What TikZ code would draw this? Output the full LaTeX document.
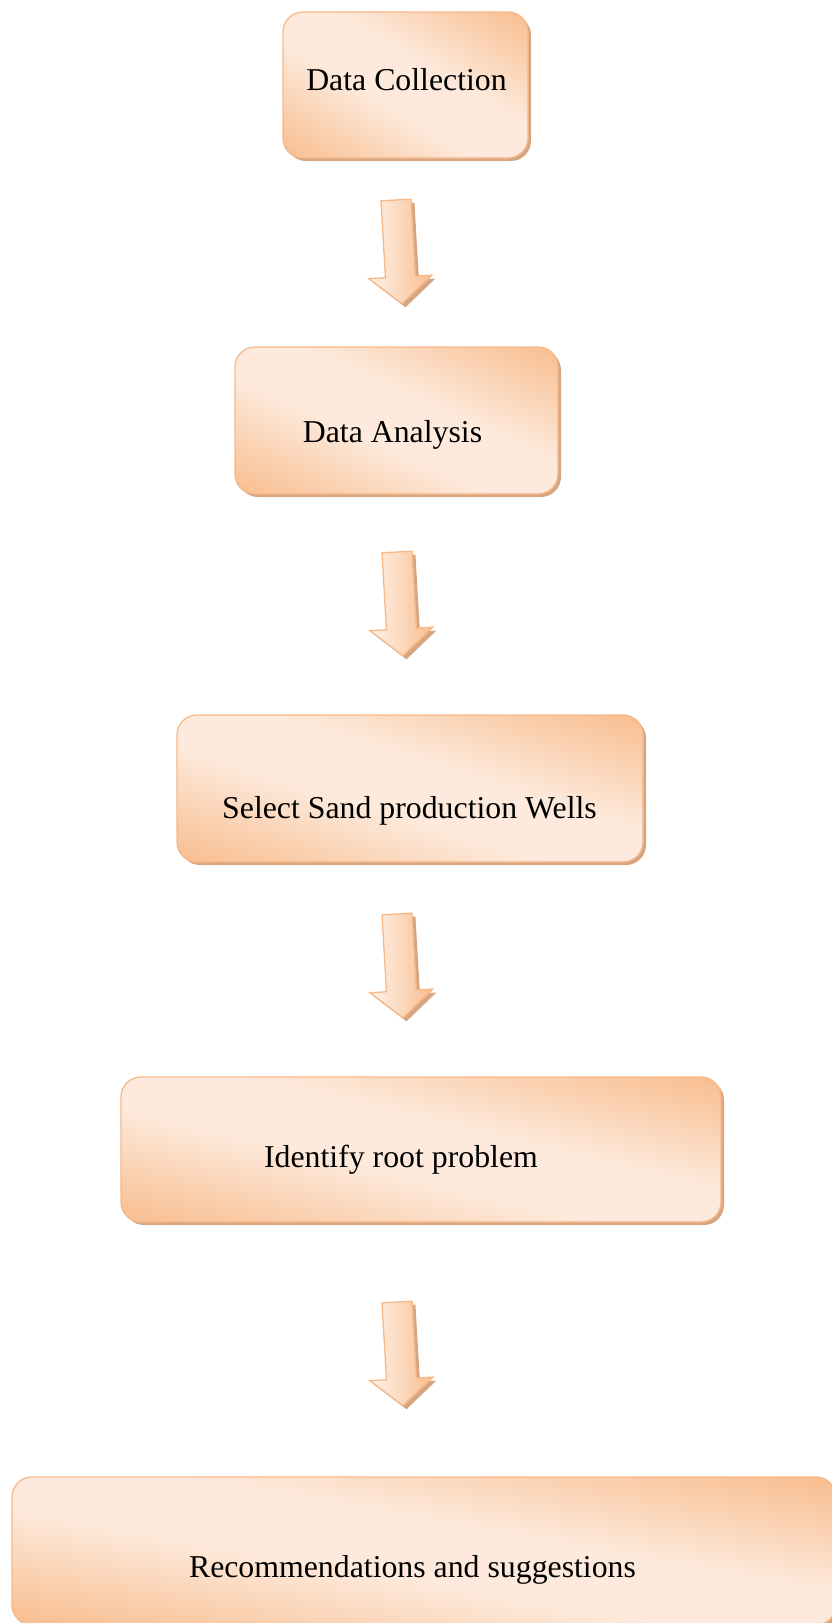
\documentclass[tikz,border=0pt]{standalone}
\usepackage{fontspec}
\setmainfont{Liberation Serif}
\usetikzlibrary{shadows}

\definecolor{orng}{RGB}{248,189,142}
\definecolor{lite}{RGB}{253,234,220}
\definecolor{edgeorange}{RGB}{247,184,136}
\definecolor{boxshadow}{RGB}{214,166,130}

% orange corners, pale diagonal band through the middle
\pgfdeclarehorizontalshading{peach}{100bp}{%
  color(0bp)=(orng); color(10bp)=(orng); color(42bp)=(lite);
  color(58bp)=(lite); color(90bp)=(orng); color(100bp)=(orng)}

\tikzset{
  boxshape/.style={rounded corners=20pt, outer sep=0pt, anchor=north west,
    general shadow={shadow xshift=3pt, shadow yshift=-3pt, fill=boxshadow}},
  boxedge/.style={rounded corners=20pt, draw=edgeorange, line width=1.3pt},
  steptext/.style={anchor=base, inner sep=0pt, font=\fontsize{31.8}{38}\selectfont},
  arrowbody/.style={draw=edgeorange, line width=1.3pt, line join=miter,
    left color=lite!60!white, right color=orng,
    general shadow={shadow xshift=3.5pt, shadow yshift=-3.5pt, fill=boxshadow}},
  downarrow/.pic={
    \path[arrowbody] (-15,0) -- (15,0) -- (15,77) -- (31.5,77) -- (0,104)
      -- (-31.5,77) -- (-15,77) -- cycle;
  }
}

% fill a box node with the diagonal peach shading, stretched so the pale
% band runs from its top-left to its bottom-right corner, then outline it
\newcommand\peachbox[3]{% #1 node, #2 width, #3 height
  \pgfmathsetmacro\shA{#2/80}\pgfmathsetmacro\shB{#3/80}%
  \pgfmathsetmacro\shC{#2/50}\pgfmathsetmacro\shD{-#3/50}%
  \begin{scope}
    \clip[rounded corners=20pt] (#1.south west) rectangle (#1.north east);
    \pgftransformcm{\shA}{\shB}{\shC}{\shD}{\pgfpointanchor{#1}{center}}%
    \pgflowlevelsynccm
    \pgfuseshading{peach}%
  \end{scope}
  \draw[boxedge] (#1.south west) rectangle (#1.north east);
}

\begin{document}
\begin{tikzpicture}[x=1pt, y=-1pt]
  \useasboundingbox (0,0) rectangle (832,1623);
  \clip (0,0) rectangle (832,1623);

  % process boxes
  \node[boxshape, minimum width=245pt, minimum height=146pt] (b1) at (283,12) {};
  \peachbox{b1}{245}{146}
  \node[boxshape, minimum width=323pt, minimum height=147pt] (b2) at (235,347) {};
  \peachbox{b2}{323}{147}
  \node[boxshape, minimum width=466pt, minimum height=147pt] (b3) at (177,715) {};
  \peachbox{b3}{466}{147}
  \node[boxshape, minimum width=600pt, minimum height=145pt] (b4) at (121,1077) {};
  \peachbox{b4}{600}{145}
  \node[boxshape, minimum width=824pt, minimum height=148pt] (b5) at (12,1477) {};
  \peachbox{b5}{824}{148}

  % box labels
  \node[steptext] (t1) at (406.5,90) {Data Collection};
  \node[steptext] (t2) at (392.5,442) {Data Analysis};
  \node[steptext] (t3) at (409.5,818) {Select Sand production Wells};
  \node[steptext] (t4) at (401,1167) {Identify root problem};
  \node[steptext] (t5) at (412.5,1577) {Recommendations and suggestions};

  % block arrows between the steps
  \coordinate (a1) at (396,200);
  \coordinate (a2) at (397,552);
  \coordinate (a3) at (397,914);
  \coordinate (a4) at (397,1302);
  \foreach \a in {a1,a2,a3,a4}
    \pic[rotate=3.3] at (\a) {downarrow};
\end{tikzpicture}
\end{document}
